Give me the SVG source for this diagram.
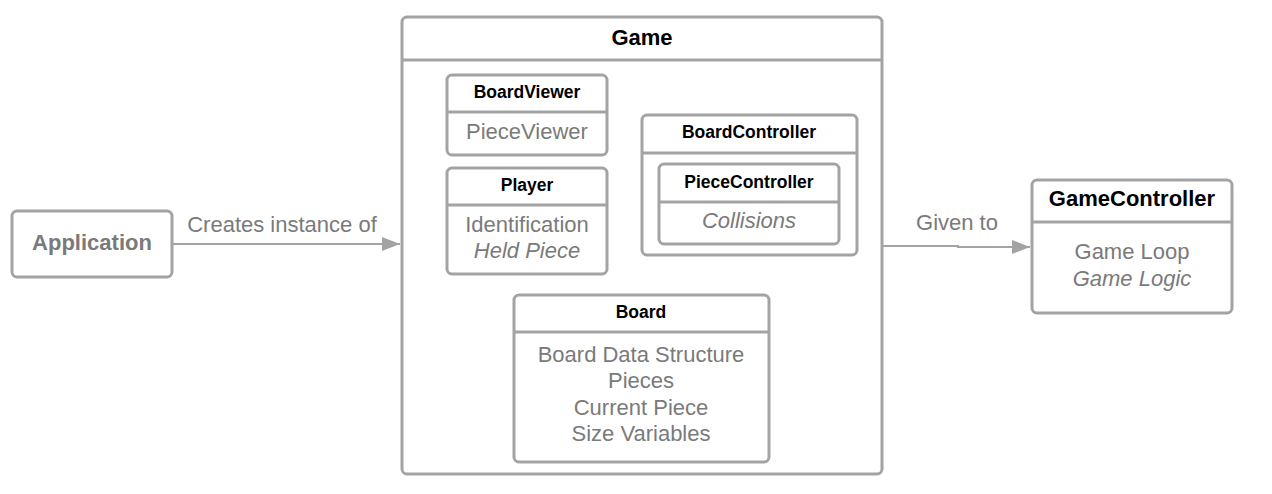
<svg xmlns="http://www.w3.org/2000/svg" width="1272" height="494" viewBox="0 0 1272 494">
<defs>
<style>
.box{fill:#fff;stroke:#a3a3a3;stroke-width:3}
.div{stroke:#a3a3a3;stroke-width:3;fill:none}
.t{font-family:"Liberation Sans",Arial,sans-serif;text-anchor:middle}
.h{font-weight:bold;fill:#000;font-size:17.5px}
.b{fill:#7a7a7a;font-size:22px}
.i{font-style:italic}
.conn{stroke:#a3a3a3;stroke-width:2;fill:none}
</style>
<marker id="arr" markerWidth="20" markerHeight="16" refX="19" refY="8" orient="auto" markerUnits="userSpaceOnUse">
<path d="M1,1 L19,8 L1,15 Z" fill="#a3a3a3"/>
</marker>
</defs>
<rect width="1272" height="494" fill="#fff"/>

<g id="application">
<rect class="box" x="12" y="211" width="160" height="66" rx="5"/>
<text class="t" x="92" y="250" font-size="22" font-weight="bold" fill="#7a7a7a">Application</text>
</g>

<g id="game">
<rect class="box" x="402" y="17" width="480" height="457" rx="5"/>
<line class="div" x1="402" y1="60" x2="882" y2="60"/>
<text class="t" x="642" y="45" font-size="22" font-weight="bold" fill="#000">Game</text>
</g>

<g id="boardviewer">
<rect class="box" x="447" y="75" width="160" height="80" rx="5"/>
<line class="div" x1="447" y1="112" x2="607" y2="112"/>
<text class="t h" x="527" y="98">BoardViewer</text>
<text class="t b" x="527" y="139">PieceViewer</text>
</g>

<g id="player">
<rect class="box" x="447" y="168" width="160" height="106" rx="5"/>
<line class="div" x1="447" y1="205" x2="607" y2="205"/>
<text class="t h" x="527" y="191">Player</text>
<text class="t b" x="527" y="232">Identification</text>
<text class="t b i" x="527" y="258">Held Piece</text>
</g>

<g id="boardcontroller">
<rect class="box" x="642" y="115" width="215" height="140" rx="5"/>
<line class="div" x1="642" y1="153" x2="857" y2="153"/>
<text class="t h" x="749" y="138">BoardController</text>
</g>

<g id="piececontroller">
<rect class="box" x="659" y="164" width="180" height="80" rx="5"/>
<line class="div" x1="659" y1="202" x2="839" y2="202"/>
<text class="t h" x="749" y="188">PieceController</text>
<text class="t b i" x="749" y="228">Collisions</text>
</g>

<g id="board">
<rect class="box" x="514" y="295" width="255" height="167" rx="5"/>
<line class="div" x1="514" y1="332" x2="769" y2="332"/>
<text class="t h" x="641" y="318">Board</text>
<text class="t b" x="641" y="362">Board Data Structure</text>
<text class="t b" x="641" y="388">Pieces</text>
<text class="t b" x="641" y="415">Current Piece</text>
<text class="t b" x="641" y="441">Size Variables</text>
</g>

<g id="gamecontroller">
<rect class="box" x="1032" y="180" width="200" height="133" rx="5"/>
<line class="div" x1="1032" y1="222" x2="1232" y2="222"/>
<text class="t" x="1132" y="206" font-size="22" font-weight="bold" fill="#000">GameController</text>
<text class="t b" x="1132" y="259">Game Loop</text>
<text class="t b i" x="1132" y="286">Game Logic</text>
</g>

<g id="connectors">
<line class="conn" x1="173" y1="244" x2="400" y2="244" marker-end="url(#arr)"/>
<text class="t" x="282" y="232" font-size="22" fill="#7a7a7a">Creates instance of</text>
<polyline class="conn" points="883,246 958,246 958,247 1030,247" marker-end="url(#arr)"/>
<text class="t" x="957" y="230" font-size="22" fill="#7a7a7a">Given to</text>
</g>
</svg>
